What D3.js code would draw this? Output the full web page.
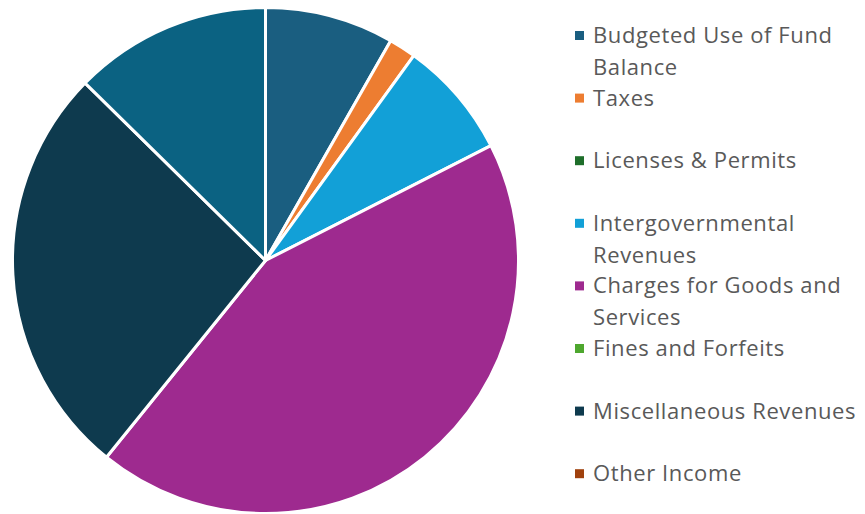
<!DOCTYPE html>
<html>
<head>
<meta charset="utf-8">
<script src="https://cdn.jsdelivr.net/npm/d3@7/dist/d3.min.js"></script>
<style>
  html, body { margin: 0; padding: 0; background: #fff; }
  svg { display: block; }
</style>
</head>
<body>
<svg id="chart" width="865" height="514"></svg>
<script>
// Revenue sources, share of total (%)
const categories = [
  "Budgeted Use of Fund Balance",
  "Taxes",
  "Licenses & Permits",
  "Intergovernmental Revenues",
  "Charges for Goods and Services",
  "Fines and Forfeits",
  "Miscellaneous Revenues",
  "Other Income",
  "Transfers In"
];
const values = [8.24, 1.73, 0, 7.53, 43.32, 0, 26.55, 0, 12.63];
const colors = [
  "#1a5e80", "#ed7d31", "#1e6e2a", "#12a0d7", "#9e2a8f",
  "#4ea72e", "#0e3a4e", "#a0410d", "#0b6282"
];

const data = categories.map((c, i) => ({ name: c, value: values[i], color: colors[i] }));

const svg = d3.select("#chart");
const width = 865, height = 514;

// Pie
const cx = 265.5, cy = 260.5, radius = 253;
const pie = d3.pie().value(d => d.value).sort(null);
const arc = d3.arc().innerRadius(0).outerRadius(radius);

const g = svg.append("g").attr("transform", `translate(${cx},${cy})`);
g.selectAll("path")
  .data(pie(data).filter(d => d.data.value > 0))
  .join("path")
  .attr("d", arc)
  .attr("fill", d => d.data.color)
  .attr("stroke", "#ffffff")
  .attr("stroke-width", 3)
  .attr("stroke-linejoin", "round");

// Legend: fixed slot per entry; entries that do not fit the box are dropped
const legendX = 575, textX = 593, firstBaseline = 43, slot = 62.6, lineH = 32;
const maxTextW = width - textX - 2;
const legend = svg.append("g")
  .attr("font-family", "'Open Sans', sans-serif")
  .attr("font-size", 22)
  .attr("letter-spacing", 0.6)
  .attr("fill", "#595959");

data.forEach((d, i) => {
  const base = firstBaseline + i * slot;
  if (base > height - 10) return;
  legend.append("rect")
    .attr("x", legendX).attr("y", base - 12)
    .attr("width", 9).attr("height", 9)
    .attr("fill", d.color);

  const text = legend.append("text").attr("x", textX).attr("y", base);
  const words = d.name.split(" ");
  let line = [];
  let lineNo = 0;
  let tspan = text.append("tspan").attr("x", textX).attr("y", base);
  words.forEach(w => {
    line.push(w);
    tspan.text(line.join(" "));
    if (tspan.node().getComputedTextLength() > maxTextW && line.length > 1) {
      line.pop();
      tspan.text(line.join(" "));
      line = [w];
      lineNo++;
      tspan = text.append("tspan").attr("x", textX).attr("y", base + lineNo * lineH).text(w);
    }
  });
});
</script>
</body>
</html>
